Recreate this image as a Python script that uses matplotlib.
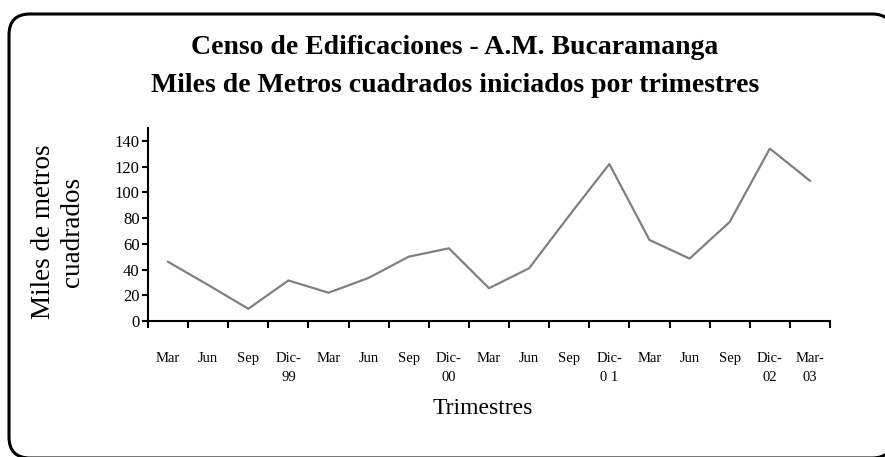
import matplotlib.pyplot as plt
from matplotlib.patches import FancyBboxPatch

labels = ['Mar', 'Jun', 'Sep', 'Dic-\n99', 'Mar', 'Jun', 'Sep', 'Dic-\n00',
          'Mar', 'Jun', 'Sep', 'Dic-\n0 1', 'Mar', 'Jun', 'Sep', 'Dic-\n02', 'Mar-\n03']
values = [46, 28, 9.5, 31.5, 22, 33.5, 50, 56.5, 25.5, 41, 82, 122, 63, 48.5, 77, 134, 109]
yticks = [0, 20, 40, 60, 80, 100, 120, 140]

plt.rcParams['font.family'] = ['Liberation Serif', 'DejaVu Serif']

fig = plt.figure(figsize=(8.85, 4.57), dpi=100)
ax = fig.add_axes([148/885, 1-321/457, (830-148)/885, (321-128)/457])

x = range(len(values))
ax.plot(x, values, color='#808080', lw=1.6)

ax.set_xlim(-0.5, len(values)-0.5)
ax.set_ylim(0, 150)
ax.set_yticks(yticks)
ax.set_xticks(list(x))
ax.set_xticklabels(labels, fontsize=10.5, linespacing=1.6, va='top')
ax.set_xticks([i-0.5 for i in range(len(values)+1)], minor=True)
ax.tick_params(axis='x', which='major', length=0, pad=22)
ax.tick_params(axis='x', which='minor', length=5, width=1.5, direction='out')
ax.tick_params(axis='y', length=4, width=1.5, direction='out', labelsize=12, pad=2)

for s in ['top', 'right']:
    ax.spines[s].set_visible(False)
for s in ['left', 'bottom']:
    ax.spines[s].set_linewidth(1.5)

fig.text(455/885, 1-47/457, 'Censo de Edificaciones - A.M. Bucaramanga',
         ha='center', va='center', fontsize=20, fontweight='bold')
fig.text(455/885, 1-86/457, 'Miles de Metros cuadrados iniciados por trimestres',
         ha='center', va='center', fontsize=20, fontweight='bold')
fig.text(58/885, 1-232/457, 'Miles de metros\ncuadrados', rotation=90,
         ha='center', va='center', fontsize=19.5, linespacing=1.25)
fig.text(483/885, 1-409/457, 'Trimestres', ha='center', va='center', fontsize=17)

# rounded frame in inches, runs past the right and bottom edges.
# white fill (not fill=False) so agg doesn't path-clip the curves into a stray edge
box = FancyBboxPatch((0.09, -0.01), 8.84, 4.44,
                     boxstyle='round,pad=0,rounding_size=0.21',
                     transform=fig.dpi_scale_trans, facecolor='white', lw=2.2,
                     edgecolor='black', clip_on=False, zorder=-1)
fig.patches.append(box)

fig.savefig('out.png', dpi=100)
